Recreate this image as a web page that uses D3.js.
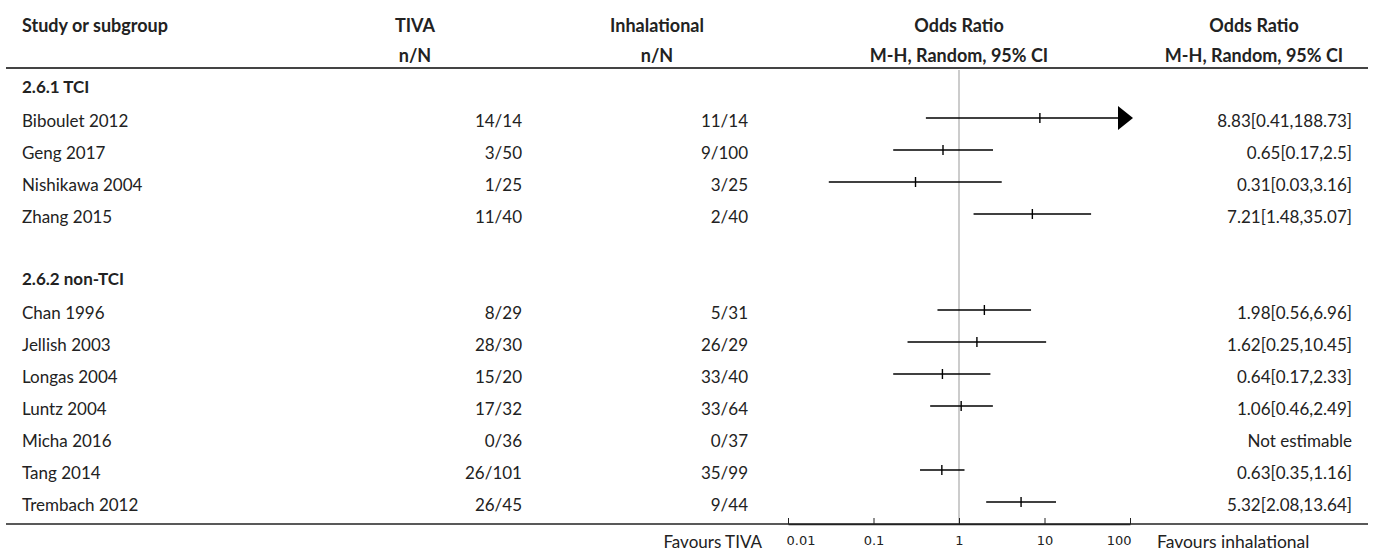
<!DOCTYPE html>
<html>
<head>
<meta charset="utf-8">
<script src="https://cdn.jsdelivr.net/npm/d3@7"></script>
<style>
    body { margin: 0; background: #fff; }
    svg { font-family: "Lato", "Open Sans", sans-serif; }
</style>
</head>
<body>
<div id="chart"></div>
<script>
// rows, top to bottom ("group" rows are subgroup headings, "gap" is an empty row)
const rowKinds = ["group", "study", "study", "study", "study", "gap", "group", "study", "study", "study", "study", "study", "study", "study"]
const rowLabels = ["2.6.1 TCI", "Biboulet 2012", "Geng 2017", "Nishikawa 2004", "Zhang 2015", "",
    "2.6.2 non-TCI", "Chan 1996", "Jellish 2003", "Longas 2004", "Luntz 2004", "Micha 2016", "Tang 2014", "Trembach 2012"]
const tivaN = [null, "14/14", "3/50", "1/25", "11/40", null, null, "8/29", "28/30", "15/20", "17/32", "0/36", "26/101", "26/45"]
const inhalN = [null, "11/14", "9/100", "3/25", "2/40", null, null, "5/31", "26/29", "33/40", "33/64", "0/37", "35/99", "9/44"]
const oddsRatio = [null, 8.83, 0.65, 0.31, 7.21, null, null, 1.98, 1.62, 0.64, 1.06, null, 0.63, 5.32]
const ciLow = [null, 0.41, 0.17, 0.03, 1.48, null, null, 0.56, 0.25, 0.17, 0.46, null, 0.35, 2.08]
const ciHigh = [null, 188.73, 2.5, 3.16, 35.07, null, null, 6.96, 10.45, 2.33, 2.49, null, 1.16, 13.64]
const axisTicks = [0.01, 0.1, 1, 10, 100]

const width = 1375, height = 552
const textColor = "#222"
const rowTop = 86, rowStep = 32
const axisY = 524

const svg = d3.select("#chart").append("svg")
    .attr("width", width)
    .attr("height", height)

// header
let header = svg.append("g").attr("font-weight", 700).attr("font-size", 18).attr("fill", textColor)
let headCols = [
    {x: 22, anchor: "start", lines: ["Study or subgroup", ""]},
    {x: 415, anchor: "middle", lines: ["TIVA", "n/N"]},
    {x: 657, anchor: "middle", lines: ["Inhalational", "n/N"]},
    {x: 959, anchor: "middle", lines: ["Odds Ratio", "M-H, Random, 95% CI"]},
    {x: 1254, anchor: "middle", lines: ["Odds Ratio", "M-H, Random, 95% CI"]}
]
headCols.forEach(function (c) {
    c.lines.forEach(function (t, i) {
        header.append("text")
            .attr("x", c.x)
            .attr("y", 32 + i * 30)
            .attr("text-anchor", c.anchor)
            .text(t)
    })
})

svg.append("line")
    .attr("x1", 6).attr("x2", 1368)
    .attr("y1", 68).attr("y2", 68)
    .attr("stroke", "#444").attr("stroke-width", 2)

// log scale for the forest plot
const x = d3.scaleLog().domain([0.01, 100]).range([788, 1130])
const y = function (i) { return rowTop + i * rowStep }

// line of no effect
svg.append("line")
    .attr("x1", x(1)).attr("x2", x(1))
    .attr("y1", 70).attr("y2", axisY)
    .attr("stroke", "#999").attr("stroke-width", 1)

let rows = svg.append("g").attr("font-size", 17).attr("fill", textColor)

rowLabels.forEach(function (label, i) {
    let kind = rowKinds[i]
    if (kind === "gap") return
    let base = y(i) + (kind === "group" ? 7 : 8.5)
    rows.append("text")
        .attr("x", 22)
        .attr("y", base)
        .attr("font-weight", kind === "group" ? 700 : 400)
        .text(label)
    if (kind !== "study") return

    rows.append("text").attr("x", 522).attr("y", base).attr("text-anchor", "end").text(tivaN[i])
    rows.append("text").attr("x", 748).attr("y", base).attr("text-anchor", "end").text(inhalN[i])

    let estText = oddsRatio[i] === null ? "Not estimable"
        : oddsRatio[i] + "[" + ciLow[i] + "," + ciHigh[i] + "]"
    rows.append("text").attr("x", 1352).attr("y", base).attr("text-anchor", "end").text(estText)
})

// confidence intervals
let ci = svg.append("g").attr("stroke", "#000").attr("stroke-width", 1.4)
let maxX = x.range()[1]
oddsRatio.forEach(function (or, i) {
    if (or === null) return
    let cy = y(i)
    let clipped = ciHigh[i] > x.domain()[1]
    ci.append("line")
        .attr("x1", x(ciLow[i]))
        .attr("x2", clipped ? maxX - 12 : x(ciHigh[i]))
        .attr("y1", cy).attr("y2", cy)
    ci.append("line")
        .attr("x1", x(or)).attr("x2", x(or))
        .attr("y1", cy - 5).attr("y2", cy + 5)
    if (clipped) {
        svg.append("path")
            .attr("d", `M${maxX - 12},${cy - 12}L${maxX + 3},${cy}L${maxX - 12},${cy + 12}Z`)
            .attr("fill", "#000")
    }
})

// bottom axis
svg.append("line")
    .attr("x1", 6).attr("x2", 1368)
    .attr("y1", axisY).attr("y2", axisY)
    .attr("stroke", "#222").attr("stroke-width", 1.5)

let axisG = svg.append("g")
    .attr("transform", `translate(0,${axisY})`)
    .call(d3.axisBottom(x).tickValues(axisTicks).tickSize(-6).tickSizeOuter(0).tickFormat(d3.format("~g")))
axisG.select(".domain").attr("stroke", "#222").attr("stroke-width", 1.5)
axisG.selectAll(".tick line").attr("stroke", "#222")
axisG.selectAll("text")
    .style("font-size", "13px").style("font-family", "'DejaVu Sans'").attr("fill", textColor)
    .attr("dy", null).attr("y", 21)
    .attr("text-anchor", function (d, i) { return i === 0 ? "start" : i === axisTicks.length - 1 ? "end" : "middle" })
    .attr("dx", function (d, i) { return i === 0 ? -2 : i === axisTicks.length - 1 ? 1 : 0 })

let foot = svg.append("g").attr("font-size", 17).attr("fill", textColor)
foot.append("text").attr("x", 762).attr("y", 548).attr("text-anchor", "end").text("Favours TIVA")
foot.append("text").attr("x", 1157).attr("y", 548).attr("font-size", 17.5).text("Favours inhalational")
</script>
</body>
</html>
